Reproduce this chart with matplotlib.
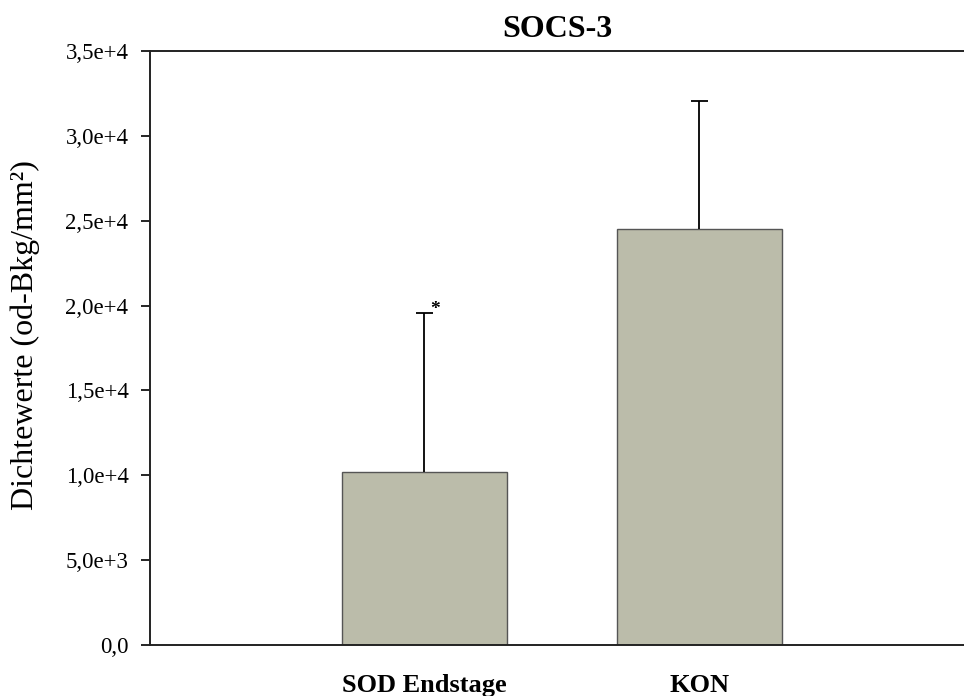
import matplotlib
matplotlib.use("Agg")
import matplotlib.pyplot as plt

categories = ["SOD Endstage", "KON"]
means = [10200, 24500]
errors_upper = [9350, 7550]
ytick_values = [0, 5000, 10000, 15000, 20000, 25000, 30000, 35000]
ytick_labels = ["0,0", "5,0e+3", "1,0e+4", "1,5e+4", "2,0e+4", "2,5e+4", "3,0e+4", "3,5e+4"]
significance = ["*", ""]

plt.rcParams['font.family'] = ['Liberation Serif', 'DejaVu Serif']

fig = plt.figure(figsize=(9.64, 6.96), dpi=100)
ax = fig.add_axes([150/964, 51/696, 1 - 150/964, 594/696])

x = list(range(len(categories)))
ax.bar(x, means, width=0.6, color="#BBBCAA", edgecolor="#555555", linewidth=1.0, zorder=2)

cap_half = 0.032
tops = [m + e for m, e in zip(means, errors_upper)]
ax.vlines(x, means, tops, colors="black", linewidth=1.3, zorder=3)
ax.hlines(tops, [xi - cap_half for xi in x], [xi + cap_half for xi in x],
          colors="black", linewidth=1.3, zorder=3)

for xi, t, s in zip(x, tops, significance):
    if s:
        ax.annotate(s, (xi, t), xytext=(8, 3), textcoords="offset points",
                    ha="center", va="center", fontsize=14, fontweight="bold")

ax.set_xlim(-0.998, 1.962)
ax.set_ylim(0, 35000)
ax.set_yticks(ytick_values)
ax.set_yticklabels(ytick_labels, fontsize=16.5)
ax.set_xticks(x)
ax.set_xticklabels(categories, fontsize=19, fontweight="bold")
ax.tick_params(axis="x", length=0, pad=21)
ax.tick_params(axis="y", direction="out", length=6.5, width=1.2, pad=9)

for side in ["left", "bottom", "top"]:
    ax.spines[side].set_linewidth(1.4)
    ax.spines[side].set_color("#222222")
ax.spines["right"].set_visible(False)

ax.set_ylabel("Dichtewerte (od-Bkg/mm²)", fontsize=23)
ax.yaxis.set_label_coords(-0.135, 0.522)
ax.set_title("SOCS-3", fontsize=23, fontweight="bold", pad=10)

fig.savefig("out.png", dpi=100)
